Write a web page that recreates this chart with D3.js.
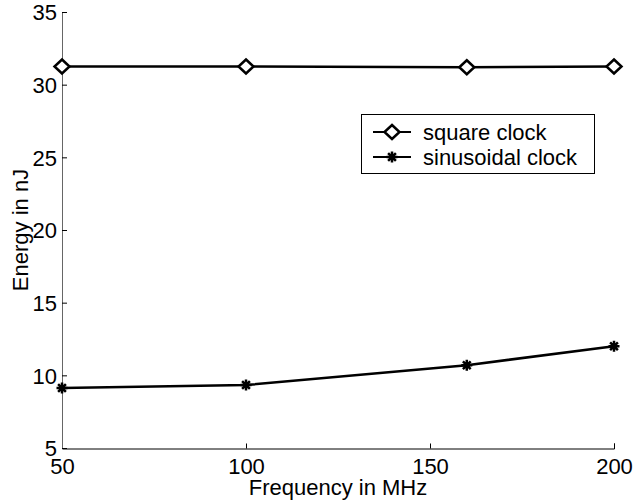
<!DOCTYPE html>
<html>
<head>
<meta charset="utf-8">
<script src="https://cdn.jsdelivr.net/npm/d3@7"></script>
<style>
  body { margin: 0; background: #fff; }
  text { font-family: "Liberation Sans", Arial, sans-serif; fill: #000; }
</style>
</head>
<body>
<svg id="chart"></svg>
<script>
// Data
var freqs = [50, 100, 160, 200];
var squareClock = [31.25, 31.25, 31.2, 31.25];
var sineClock = [9.13, 9.33, 10.7, 12.0];
var xTicks = [50, 100, 150, 200];
var yTicks = [5, 10, 15, 20, 25, 30, 35];

var width = 634, height = 501;
var svg = d3.select("#chart").attr("width", width).attr("height", height);

// plot area
var plotLeft = 62, plotRight = 614, plotTop = 12, plotBottom = 448;
var fontSize = "22px";
var lineW = 2.5;

var x = d3.scaleLinear().domain([50, 200]).range([plotLeft, plotRight]);
var y = d3.scaleLinear().domain([5, 35]).range([plotBottom, plotTop]);

// axes, ticks drawn inward like matlab
var xAxis = d3.axisBottom(x).tickValues(xTicks).tickSize(-5).tickPadding(10).tickFormat(d3.format("d"));
var yAxis = d3.axisLeft(y).tickValues(yTicks).tickSize(-5).tickPadding(5).tickFormat(d3.format("d"));

var gx = svg.append("g").attr("transform", "translate(0," + (plotBottom + 0.5) + ")").call(xAxis);
var gy = svg.append("g").attr("transform", "translate(" + plotLeft + ",0)").call(yAxis);

[gx, gy].forEach(function(g) {
  g.attr("font-size", null).attr("font-family", null);
  g.selectAll("text").style("font-size", fontSize).attr("fill", "#000");
  g.selectAll("line").attr("stroke", "#000");
  g.select(".domain").attr("stroke", "#000");
});
gy.select(".domain").attr("stroke", "#666");
gx.selectAll("text").attr("dy", "0.72em");
gy.selectAll("text").attr("dy", "0.36em");

// axis titles
svg.append("text")
  .attr("x", (plotLeft + plotRight) / 2)
  .attr("y", 495)
  .attr("text-anchor", "middle")
  .style("font-size", fontSize)
  .text("Frequency in MHz");

svg.append("text")
  .attr("transform", "translate(28," + ((plotTop + plotBottom) / 2) + ") rotate(-90)")
  .attr("text-anchor", "middle")
  .style("font-size", fontSize)
  .text("Energy in nJ");

// lines
var line = d3.line()
  .x(function(d) { return x(d[0]); })
  .y(function(d) { return y(d[1]); });

var squarePts = freqs.map(function(f, i) { return [f, squareClock[i]]; });
var sinePts = freqs.map(function(f, i) { return [f, sineClock[i]]; });

function drawDiamond(g, cx, cy) {
  var rx = 7.5, ry = 7;
  g.append("path")
    .attr("d", "M" + cx + "," + (cy - ry) + "L" + (cx + rx) + "," + cy + "L" + cx + "," + (cy + ry) + "L" + (cx - rx) + "," + cy + "Z")
    .attr("fill", "#fff")
    .attr("stroke", "#000")
    .attr("stroke-width", lineW);
}

function drawStar(g, cx, cy) {
  var r = 5.5;
  var d = "";
  [0, 45, 90, 135].forEach(function(a) {
    var rad = a * Math.PI / 180;
    d += "M" + (cx - r * Math.cos(rad)) + "," + (cy - r * Math.sin(rad)) +
         "L" + (cx + r * Math.cos(rad)) + "," + (cy + r * Math.sin(rad));
  });
  g.append("path").attr("d", d).attr("stroke", "#000").attr("stroke-width", lineW);
}

svg.append("path").datum(squarePts).attr("d", line)
  .attr("fill", "none").attr("stroke", "#000").attr("stroke-width", lineW);
svg.append("path").datum(sinePts).attr("d", line)
  .attr("fill", "none").attr("stroke", "#000").attr("stroke-width", lineW);

var marks = svg.append("g");
squarePts.forEach(function(p) { drawDiamond(marks, x(p[0]), y(p[1])); });
sinePts.forEach(function(p) { drawStar(marks, x(p[0]), y(p[1])); });

// legend
var legend = svg.append("g");
legend.append("rect")
  .attr("x", 361.5).attr("y", 114.5).attr("width", 233).attr("height", 59)
  .attr("fill", "#fff").attr("stroke", "#000").attr("stroke-width", 1);

var entries = [
  { label: "square clock", y: 132, marker: drawDiamond },
  { label: "sinusoidal clock", y: 157, marker: drawStar }
];
entries.forEach(function(e) {
  legend.append("line")
    .attr("x1", 373).attr("x2", 411).attr("y1", e.y).attr("y2", e.y)
    .attr("stroke", "#000").attr("stroke-width", 2);
  e.marker(legend, 392, e.y);
  legend.append("text")
    .attr("x", 423).attr("y", e.y).attr("dy", "0.36em")
    .style("font-size", fontSize)
    .text(e.label);
});
</script>
</body>
</html>
